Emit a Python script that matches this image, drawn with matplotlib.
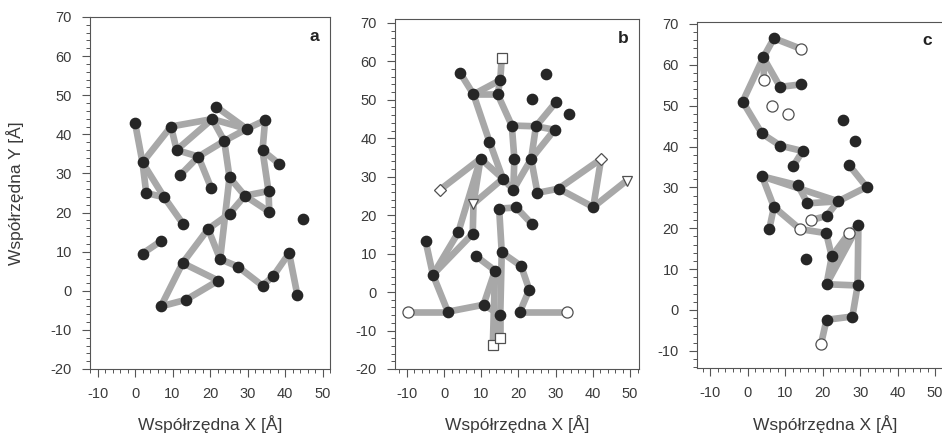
import matplotlib
matplotlib.use('Agg')
import matplotlib.pyplot as plt
from matplotlib.ticker import MultipleLocator

plt.rcParams['font.family'] = ['Liberation Sans', 'DejaVu Sans']
plt.rcParams['axes.unicode_minus'] = False

# panel a: all filled atoms
a_x = [0.0, 2.0, 3.0, 7.8, 12.8, 2.0, 6.9, 9.6, 11.1, 12.1, 16.9, 20.3, 20.6, 21.6, 23.8, 29.8, 34.7, 34.0,
       38.5, 25.2, 29.3, 35.6, 35.8, 25.2, 19.5, 44.8, 12.7, 22.7, 27.4, 22.2, 34.0, 36.9, 41.1, 43.3, 13.6, 6.9]
a_y = [43.0, 32.8, 25.0, 23.9, 17.1, 9.5, 12.7, 42.0, 36.0, 29.6, 34.3, 26.3, 43.9, 47.1, 38.3, 41.4, 43.6, 35.9,
       32.4, 29.0, 24.3, 25.5, 20.2, 19.7, 15.8, 18.4, 7.1, 8.1, 6.2, 2.6, 1.3, 3.8, 9.6, -1.1, -2.3, -4.0]
a_kind = ['f'] * len(a_x)
a_bonds = [(0, 1), (1, 2), (1, 3), (2, 3), (3, 4), (1, 7), (7, 8), (7, 12), (8, 12), (8, 10), (9, 10), (10, 14),
           (10, 11), (12, 14), (13, 15), (12, 15), (14, 15), (15, 16), (16, 17), (17, 18), (17, 21), (21, 22),
           (20, 21), (20, 22), (19, 20), (14, 19), (19, 27), (23, 20), (23, 24), (24, 27), (24, 26), (26, 35),
           (26, 29), (29, 34), (34, 35), (27, 28), (28, 30), (30, 31), (31, 32), (32, 33), (5, 6)]

# panel b: filled atoms + open end markers
b_x = [4.3, 15.1, 7.9, 14.4, 27.4, 23.7, 30.0, 33.7, 18.2, 24.7, 29.7, 12.2, 9.8, 18.9, 23.4, 15.8, 18.6, 25.1,
       30.8, 40.1, 14.8, 19.4, 23.6, 3.8, 7.7, -5.0, 15.5, 8.5, 20.7, 13.7, -3.0, 22.9, 1.0, 10.6, 15.1, 20.4,
       -9.8, 33.1, 15.5, 13.1, 15.1, -1.1, 42.2, 7.9, 49.1]
b_y = [57.0, 55.1, 51.4, 51.4, 56.8, 50.2, 49.3, 46.4, 43.3, 43.1, 42.2, 39.1, 34.7, 34.6, 34.6, 29.5, 26.6, 25.8,
       26.9, 22.1, 21.7, 22.0, 17.7, 15.5, 15.2, 13.4, 10.3, 9.4, 6.8, 5.6, 4.5, 0.6, -5.1, -3.3, -5.9, -5.1,
       -5.1, -5.1, 60.9, -13.8, -12.0, 26.6, 34.6, 23.0, 29.0]
b_kind = ['f'] * 36 + ['o', 'o', 's', 's', 's', 'D', 'D', 'v', 'v']
b_bonds = [(0, 2), (2, 1), (2, 3), (1, 38), (1, 3), (2, 11), (11, 15), (3, 8), (8, 9), (8, 13), (13, 16), (9, 6),
           (9, 10), (9, 14), (14, 10), (14, 17), (14, 16), (17, 18), (18, 19), (18, 42), (42, 19), (19, 44),
           (15, 16), (15, 12), (15, 43), (12, 41), (12, 43), (12, 23), (23, 30), (24, 30), (43, 24), (30, 25),
           (30, 32), (32, 36), (32, 33), (33, 34), (34, 39), (34, 40), (20, 21), (21, 22), (20, 26), (26, 34),
           (26, 28), (28, 31), (31, 35), (35, 37), (29, 27), (29, 33), (29, 39)]

# panel c
c_x = [6.95, 4.1, 8.6, 14.1, -1.4, 3.7, 8.7, 14.6, 12.1, 25.3, 28.6, 26.9, 31.7, 3.8, 13.4, 15.9, 24.1, 21.0,
       6.95, 5.7, 20.9, 29.5, 15.4, 22.4, 21.0, 29.3, 21.0, 27.9,
       14.2, 4.3, 6.3, 10.6, 16.8, 13.9, 27.0, 19.5]
c_y = [66.5, 61.8, 54.6, 55.2, 51.0, 43.2, 40.2, 38.9, 35.2, 46.6, 41.4, 35.6, 30.1, 32.7, 30.5, 26.1, 26.6, 23.0,
       25.2, 19.8, 18.8, 20.7, 12.4, 13.1, 6.3, 6.0, -2.4, -1.6,
       63.9, 56.3, 49.9, 47.9, 22.0, 19.8, 18.8, -8.4]
c_kind = ['f'] * 28 + ['o'] * 8
c_bonds = [(0, 28), (0, 1), (1, 29), (1, 2), (2, 3), (1, 4), (4, 5), (5, 6), (6, 7), (7, 8), (11, 12), (12, 16),
           (13, 14), (13, 16), (14, 15), (15, 16), (16, 17), (17, 32), (13, 18), (18, 19), (18, 33), (33, 20),
           (20, 23), (23, 34), (23, 24), (24, 21), (24, 34), (21, 25), (34, 21), (24, 25), (25, 27), (27, 26),
           (26, 35)]

TXT = '#3a3a3a'
EDGE = '#555555'


def draw(ax, xs, ys, kinds, bonds, letter, xlim, ylim):
    for i, j in bonds:
        ax.plot([xs[i], xs[j]], [ys[i], ys[j]], color='#a8a8a8', lw=4.8, solid_capstyle='butt', zorder=1)
    for k in range(len(xs)):
        if kinds[k] == 'f':
            ax.plot(xs[k], ys[k], 'o', ms=7.4, mfc='#262626', mec='#262626', zorder=3)
        else:
            size = {'o': 8.0, 's': 6.6, 'D': 6.4, 'v': 7.4}[kinds[k]]
            ax.plot(xs[k], ys[k], kinds[k], ms=size, mfc='white', mec='#505050', mew=0.9, zorder=3)
    ax.set_xlim(*xlim)
    ax.set_ylim(*ylim)
    ax.xaxis.set_major_locator(MultipleLocator(10))
    ax.xaxis.set_minor_locator(MultipleLocator(2))
    ax.yaxis.set_major_locator(MultipleLocator(10))
    ax.yaxis.set_minor_locator(MultipleLocator(2))
    ax.tick_params(which='major', direction='out', length=5.5, width=0.8, color=EDGE, labelcolor=TXT,
                   labelsize=10.5, pad=7.5)
    ax.tick_params(which='minor', direction='out', length=3, width=0.7, color=EDGE)
    for s in ax.spines.values():
        s.set_color(EDGE)
        s.set_linewidth(0.8)
    ax.text(0.935, 0.945, letter, transform=ax.transAxes, fontsize=12.5, fontweight='bold', color='#222222',
            ha='center', va='center')
    ax.set_xlabel('Współrzędna X [Å]', fontsize=12.5, color=TXT)


fig = plt.figure(figsize=(9.42, 4.37), dpi=100)
W, H = 942., 437.

ax1 = fig.add_axes([90 / W, 1 - 369 / H, 240 / W, 352 / H])
draw(ax1, a_x, a_y, a_kind, a_bonds, 'a', (-12, 52), (-20, 70))
ax1.set_ylabel('Współrzędna Y [Å]', fontsize=12.5, color=TXT)
ax1.yaxis.set_label_coords(-0.275, 0.5)
ax1.xaxis.set_label_coords(0.5, -0.131)

ax2 = fig.add_axes([395 / W, 1 - 369 / H, 244 / W, 350 / H])
draw(ax2, b_x, b_y, b_kind, b_bonds, 'b', (-13.2, 52.4), (-20, 71))
ax2.xaxis.set_label_coords(0.5, -0.131)

ax3 = fig.add_axes([697 / W, 1 - 368 / H, 246 / W, 346.5 / H])
draw(ax3, c_x, c_y, c_kind, c_bonds, 'c', (-13.6, 52.1), (-14.2, 70.6))
ax3.xaxis.set_label_coords(0.52, -0.1356)

fig.savefig('out.png', dpi=100)
